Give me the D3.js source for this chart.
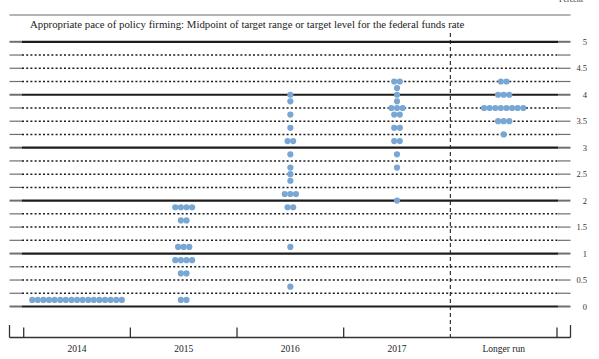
<!DOCTYPE html>
<html><head><meta charset="utf-8">
<script src="https://cdn.jsdelivr.net/npm/d3@7"></script>
<style>html,body{margin:0;padding:0;background:#fff;}svg{display:block;}</style>
</head><body>
<svg id="chart" width="599" height="359"></svg>
<script>
const categories = ["2014", "2015", "2016", "2017", "Longer run"];
// [rate, number of participants]
const dots2014 = [[0.125, 17]];
const dots2015 = [[1.875, 4], [1.625, 2], [1.125, 3], [0.875, 4], [0.625, 2], [0.125, 2]];
const dots2016 = [[4.0, 1], [3.875, 1], [3.625, 1], [3.375, 1], [3.125, 2], [2.875, 1], [2.625, 1], [2.5, 1], [2.375, 1], [2.125, 3], [1.875, 2], [1.125, 1], [0.375, 1]];
const dots2017 = [[4.25, 2], [4.125, 1], [4.0, 1], [3.875, 1], [3.75, 3], [3.625, 2], [3.375, 2], [3.125, 2], [2.875, 1], [2.625, 1], [2.0, 1]];
const dotsLonger = [[4.25, 2], [4.0, 3], [3.75, 8], [3.5, 3], [3.25, 1]];
const yTickLabels = ["0", "0.5", "1", "1.5", "2", "2.5", "3", "3.5", "4", "4.5", "5"];
const title = "Appropriate pace of policy firming: Midpoint of target range or target level for the federal funds rate";
const unitLabel = "Percent";

const columns = [dots2014, dots2015, dots2016, dots2017, dotsLonger];

const svg = d3.select("#chart");
const serif = "'Liberation Serif', 'DejaVu Serif', serif";

const x = d3.scaleBand().domain(categories).range([23.7, 557]).padding(0);
const y = d3.scaleLinear().domain([0, 5]).range([306.5, 41.8]);

const left = 9.5, right = 570.5, innerL = 22, innerR = 558;

// top border
svg.append("line").attr("x1", left).attr("x2", right).attr("y1", 15).attr("y2", 15)
  .attr("stroke", "#6a6a6a").attr("stroke-width", 1.2);

// title
svg.append("text").attr("x", 30).attr("y", 28).attr("font-family", serif)
  .attr("font-size", 10.8).attr("fill", "#222").text(title);

// unit label (partly above the top edge, as in the source)
svg.append("text").attr("x", 583).attr("y", 2).attr("text-anchor", "end")
  .attr("font-family", serif).attr("font-size", 8).attr("fill", "#333").text(unitLabel);

// grid lines
const levels = d3.range(0, 5.0001, 0.25);
levels.forEach(v => {
  const yy = y(v);
  const isInt = Math.abs(v - Math.round(v)) < 1e-6;
  svg.append("line").attr("x1", left).attr("x2", innerL).attr("y1", yy).attr("y2", yy)
    .attr("stroke", "#707070").attr("stroke-width", isInt ? 2 : 1.2);
  svg.append("line").attr("x1", innerR).attr("x2", right).attr("y1", yy).attr("y2", yy)
    .attr("stroke", "#707070").attr("stroke-width", isInt ? 2 : 1.2);
  const l = svg.append("line").attr("x1", innerL).attr("x2", innerR).attr("y1", yy).attr("y2", yy)
    .attr("stroke", "#1c1c1c").attr("stroke-width", isInt ? 2.2 : 1.5);
  if (!isInt) l.attr("stroke-dasharray", "2,2.2");
});

// y labels
yTickLabels.forEach(t => {
  svg.append("text").attr("x", 587).attr("y", y(+t) + 3).attr("text-anchor", "end")
    .attr("font-family", serif).attr("font-size", 8.5).attr("fill", "#333").text(t);
});

// dashed separator
svg.append("line").attr("x1", x("Longer run")).attr("x2", x("Longer run"))
  .attr("y1", 33).attr("y2", 337).attr("stroke", "#222").attr("stroke-width", 1.1)
  .attr("stroke-dasharray", "4,3");

// bottom axis
const axisY = 337.5;
svg.append("line").attr("x1", left).attr("x2", right).attr("y1", axisY).attr("y2", axisY)
  .attr("stroke", "#333").attr("stroke-width", 1.3);
[left, right].forEach(xx => svg.append("line").attr("x1", xx).attr("x2", xx)
  .attr("y1", 325).attr("y2", axisY).attr("stroke", "#333").attr("stroke-width", 1.3));
const bounds = categories.map(c => x(c)).concat([x.range()[1]]);
bounds.forEach((b, i) => {
  if (categories[i] === "Longer run") return;
  svg.append("line").attr("x1", b).attr("x2", b).attr("y1", 327.5).attr("y2", axisY)
    .attr("stroke", "#333").attr("stroke-width", 1.3);
});
categories.forEach(c => {
  svg.append("text").attr("x", x(c) + x.bandwidth() / 2).attr("y", 352)
    .attr("text-anchor", "middle").attr("font-family", serif).attr("font-size", 9.5)
    .attr("fill", "#222").text(c);
});

// dots
const spacing = 5.6;
columns.forEach((col, ci) => {
  const cx = x(categories[ci]) + x.bandwidth() / 2;
  const pts = [];
  col.forEach(([rate, n]) => {
    for (let i = 0; i < n; i++) pts.push({ x: cx + (i - (n - 1) / 2) * spacing, y: y(rate) });
  });
  svg.append("g").selectAll("circle").data(pts).join("circle")
    .attr("cx", d => d.x).attr("cy", d => d.y).attr("r", 3.1).attr("fill", "#79a7d3");
});
</script>
</body></html>
